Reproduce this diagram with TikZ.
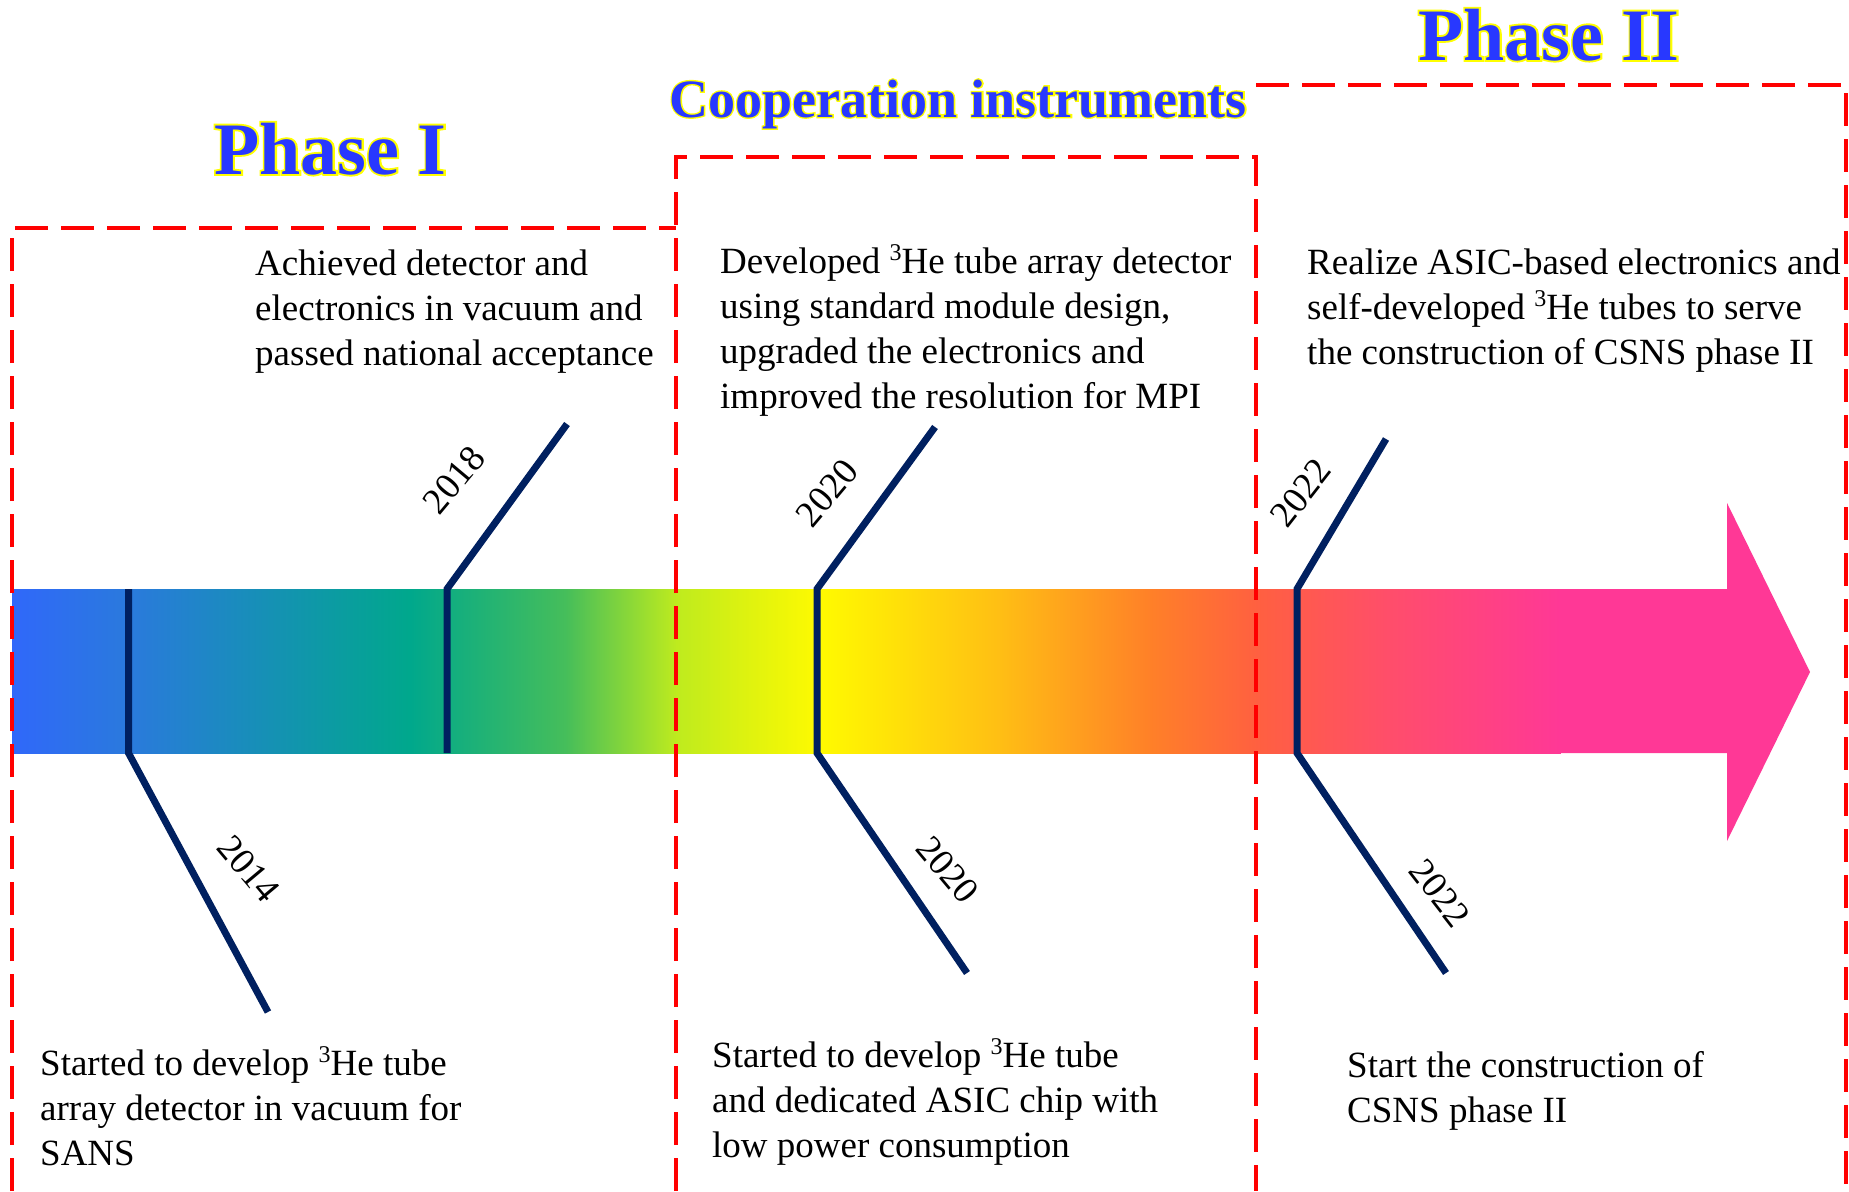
\documentclass[tikz,border=0pt]{standalone}
\usepackage{fontspec}
\setmainfont{Liberation Serif}
\newfontfamily\halofont{Liberation Serif}[BoldFeatures={FakeBold=5}]
\definecolor{navy}{RGB}{0,32,96}
\definecolor{ttlblue}{RGB}{40,56,255}
\definecolor{ttlyel}{RGB}{255,255,0}
\definecolor{g0}{RGB}{48,104,250}
\definecolor{g1}{RGB}{42,122,220}
\definecolor{g2}{RGB}{0,168,140}
\definecolor{g3}{RGB}{70,190,90}
\definecolor{g4}{RGB}{190,235,30}
\definecolor{g5}{RGB}{255,250,0}
\definecolor{g6}{RGB}{255,190,20}
\definecolor{g7}{RGB}{255,128,40}
\definecolor{g8}{RGB}{255,96,64}
\definecolor{g9}{RGB}{255,76,110}
\definecolor{g10}{RGB}{255,56,150}
\newcommand{\sthree}{\raisebox{13pt}{\fontsize{24}{24}\selectfont 3}}
\begin{document}
\begin{tikzpicture}[x=1pt,y=-1pt,
  txt/.style={font=\fontsize{37}{45}\selectfont, anchor=base west, inner sep=0pt, text=black},
  yr/.style={font=\fontsize{37}{45}\selectfont, inner sep=0pt, text=black},
  ttlbig/.style={font=\bfseries\fontsize{74}{80}\selectfont, anchor=base west, inner sep=0pt, text=ttlblue},
  ttlmid/.style={font=\bfseries\fontsize{54}{60}\selectfont, anchor=base west, inner sep=0pt, text=ttlblue},
  halobig/.style={font=\halofont\bfseries\fontsize{74}{80}\selectfont, anchor=base west, inner sep=0pt, text=ttlyel},
  halomid/.style={font=\halofont\bfseries\fontsize{54}{60}\selectfont, anchor=base west, inner sep=0pt, text=ttlyel},
  boxline/.style={draw=red, line width=4pt, dash pattern=on 33pt off 13pt},
  tickline/.style={draw=navy, line width=7pt}]
\useasboundingbox[fill=white] (0,0) rectangle (1849,1191);

% gradient bar
\foreach \xa/\xb/\ca/\cb in {12/130/g0/g1, 130/410/g1/g2, 410/566/g2/g3, 566/676/g3/g4, 676/820/g4/g5, 820/1000/g5/g6, 1000/1150/g6/g7, 1150/1256/g7/g8, 1256/1400/g8/g9, 1400/1560/g9/g10}{
  \shade[left color=\ca, right color=\cb] (\xa,589) rectangle (\xb+0.8,753);
}
\fill[g10] (1560,589) -- (1727,589) -- (1727,503) -- (1810,672) -- (1727,841) -- (1727,753) -- (1560,753) -- cycle;

% tick points
\coordinate (a0) at (128.5,589);
\coordinate (a1) at (128.5,753);
\coordinate (a2) at (268,1012);
\coordinate (b0) at (567,424);
\coordinate (b1) at (447,589);
\coordinate (b2) at (447,753);
\coordinate (c0) at (935,427);
\coordinate (c1) at (817,589);
\coordinate (c2) at (817,753);
\coordinate (c3) at (967,973);
\coordinate (d0) at (1386,439);
\coordinate (d1) at (1297,589);
\coordinate (d2) at (1297,753);
\coordinate (d3) at (1446,973);

\draw[tickline] (a0) -- (a1) -- (a2);
\draw[tickline] (b0) -- (b1) -- (b2);
\draw[tickline] (c0) -- (c1) -- (c2) -- (c3);
\draw[tickline] (d0) -- (d1) -- (d2) -- (d3);

% dashed boxes
\coordinate (p1a) at (12,1191);
\coordinate (p1b) at (12,228);
\coordinate (p1c) at (676,228);
\coordinate (c1a) at (676,1191);
\coordinate (c1b) at (676,157);
\coordinate (c1c) at (1256,157);
\coordinate (c1d) at (1256,1191);
\coordinate (p2b) at (1256,85);
\coordinate (p2c) at (1846,85);
\coordinate (p2d) at (1846,1191);
\draw[boxline] (p1a) -- (p1b) -- (p1c);
\draw[boxline] (c1a) -- (c1b) -- (c1c) -- (c1d);
\draw[boxline] (p2b) -- (p2c) -- (p2d);

% titles (yellow outline behind blue text)
\node[halobig] (tphase1h) at (214,174) {Phase I};
\node[ttlbig] (tphase1) at (214,174) {Phase I};
\node[halomid] (tcooph) at (669,117) {Cooperation instruments};
\node[ttlmid] (tcoop) at (669,117) {Cooperation instruments};
\node[halobig] (tphase2h) at (1418,60) {Phase II};
\node[ttlbig] (tphase2) at (1418,60) {Phase II};

% year labels
\node[yr, rotate=-50] (y2014) at (249,869) {2014};
\node[yr, rotate=50] (y2018) at (454,480) {2018};
\node[yr, rotate=50] (y2020a) at (827,493) {2020};
\node[yr, rotate=-50] (y2020b) at (948,870) {2020};
\node[yr, rotate=52] (y2022a) at (1301,493) {2022};
\node[yr, rotate=-52] (y2022b) at (1440,893) {2022};

% top texts
\node[txt] (t1a) at (255,275) {Achieved detector and};
\node[txt] (t1b) at (255,320) {electronics in vacuum and};
\node[txt] (t1c) at (255,365) {passed national acceptance};

\node[txt] (t2a) at (720,273) {Developed \sthree He tube array detector};
\node[txt] (t2b) at (720,318) {using standard module design,};
\node[txt] (t2c) at (720,363) {upgraded the electronics and};
\node[txt] (t2d) at (720,408) {improved the resolution for MPI};

\node[txt] (t3a) at (1307,274) {Realize ASIC-based electronics and};
\node[txt] (t3b) at (1307,319) {self-developed \sthree He tubes to serve};
\node[txt] (t3c) at (1307,364) {the construction of CSNS phase II};

% bottom texts
\node[txt] (t4a) at (40,1075) {Started to develop \sthree He tube};
\node[txt] (t4b) at (40,1120) {array detector in vacuum for};
\node[txt] (t4c) at (40,1165) {SANS};

\node[txt] (t5a) at (712,1067) {Started to develop \sthree He tube};
\node[txt] (t5b) at (712,1112) {and dedicated ASIC chip with};
\node[txt] (t5c) at (712,1157) {low power consumption};

\node[txt] (t6a) at (1347,1077) {Start the construction of};
\node[txt] (t6b) at (1347,1122) {CSNS phase II};
\end{tikzpicture}
\end{document}
